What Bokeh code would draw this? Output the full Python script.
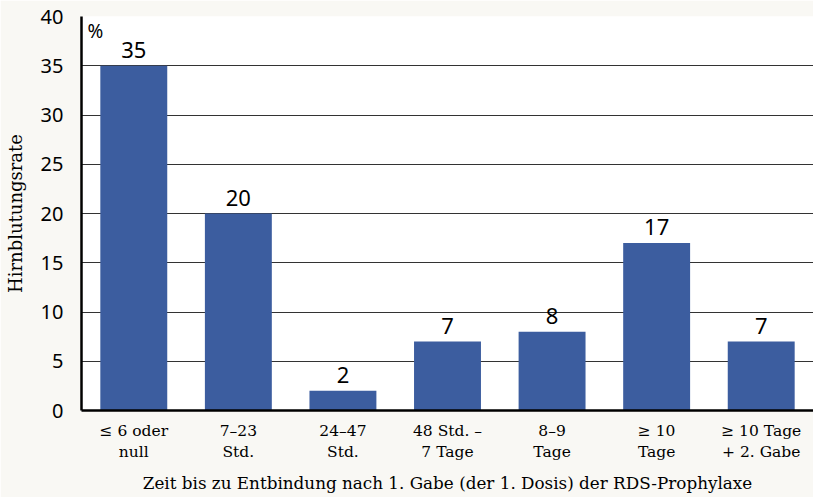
from bokeh.plotting import figure
from bokeh.models import ColumnDataSource, Range1d, FixedTicker, Label, LabelSet
from bokeh.core.properties import value
from bokeh.embed import file_html
from bokeh.resources import INLINE

categories = ["≤ 6 oder\nnull", "7–23\nStd.", "24–47\nStd.", "48 Std. –\n7 Tage",
              "8–9\nTage", "≥ 10\nTage", "≥ 10 Tage\n+ 2. Gabe"]
values = [35, 20, 2, 7, 8, 17, 7]
y_ticks = [0, 5, 10, 15, 20, 25, 30, 35, 40]

x = list(range(1, len(categories) + 1))
src = ColumnDataSource(dict(x=x, top=values, lab=[str(v) for v in values]))

p = figure(width=813, height=497, output_backend="svg", toolbar_location=None,
           x_range=Range1d(0.5, len(categories) + 0.5), y_range=Range1d(0, 40),
           min_border_left=81, min_border_right=0, min_border_top=16, min_border_bottom=87)
p.border_fill_color = "#f9f8f4"
p.background_fill_color = "white"
p.outline_line_color = None

p.vbar(x="x", top="top", width=0.64, source=src, color="#3c5d9f", line_color=None)

labels = LabelSet(x="x", y="top", text="lab", source=src, text_align="center",
                  text_baseline="bottom", y_offset=8, text_font=value("Noto Sans"),
                  text_font_size=value("22px"), text_color="black")
p.add_layout(labels)

p.xaxis.ticker = FixedTicker(ticks=x)
p.xaxis.major_label_overrides = {i + 1: c for i, c in enumerate(categories)}
p.yaxis.ticker = FixedTicker(ticks=y_ticks)

for ax in (p.xaxis, p.yaxis):
    ax.axis_line_color = "black"
    ax.axis_line_width = 2.5
    ax.major_tick_line_color = None
    ax.minor_tick_line_color = None
    ax.axis_label_text_color = "black"
    ax.major_label_text_color = "black"

p.xaxis.major_label_text_font = "DejaVu Serif"
p.xaxis.major_label_text_font_size = "15.5px"
p.xaxis.major_label_standoff = 5
p.xaxis.axis_label = "Zeit bis zu Entbindung nach 1. Gabe (der 1. Dosis) der RDS-Prophylaxe"
p.xaxis.axis_label_text_font = "DejaVu Serif"
p.xaxis.axis_label_text_font_size = "16.8px"
p.xaxis.axis_label_text_font_style = "normal"
p.xaxis.axis_label_standoff = 9

p.yaxis.major_label_text_font = "Noto Sans"
p.yaxis.major_label_text_font_size = "20px"
p.yaxis.major_label_standoff = 12
p.yaxis.axis_label = "Hirnblutungsrate"
p.yaxis.axis_label_text_font = "DejaVu Serif"
p.yaxis.axis_label_text_font_size = "18px"
p.yaxis.axis_label_text_font_style = "normal"
p.yaxis.axis_label_standoff = 12

p.xgrid.grid_line_color = None
p.ygrid.ticker = FixedTicker(ticks=y_ticks)
p.ygrid.grid_line_color = "#333333"
p.ygrid.grid_line_width = 1.2

pct = Label(x=0.5, y=40, x_offset=6, y_offset=-1, text="%", text_align="left",
            text_baseline="top", text_font="Noto Sans", text_font_size="19px",
            text_color="black", background_fill_color="white")
p.add_layout(pct)

open("out.html", "w").write(file_html(p, INLINE))
